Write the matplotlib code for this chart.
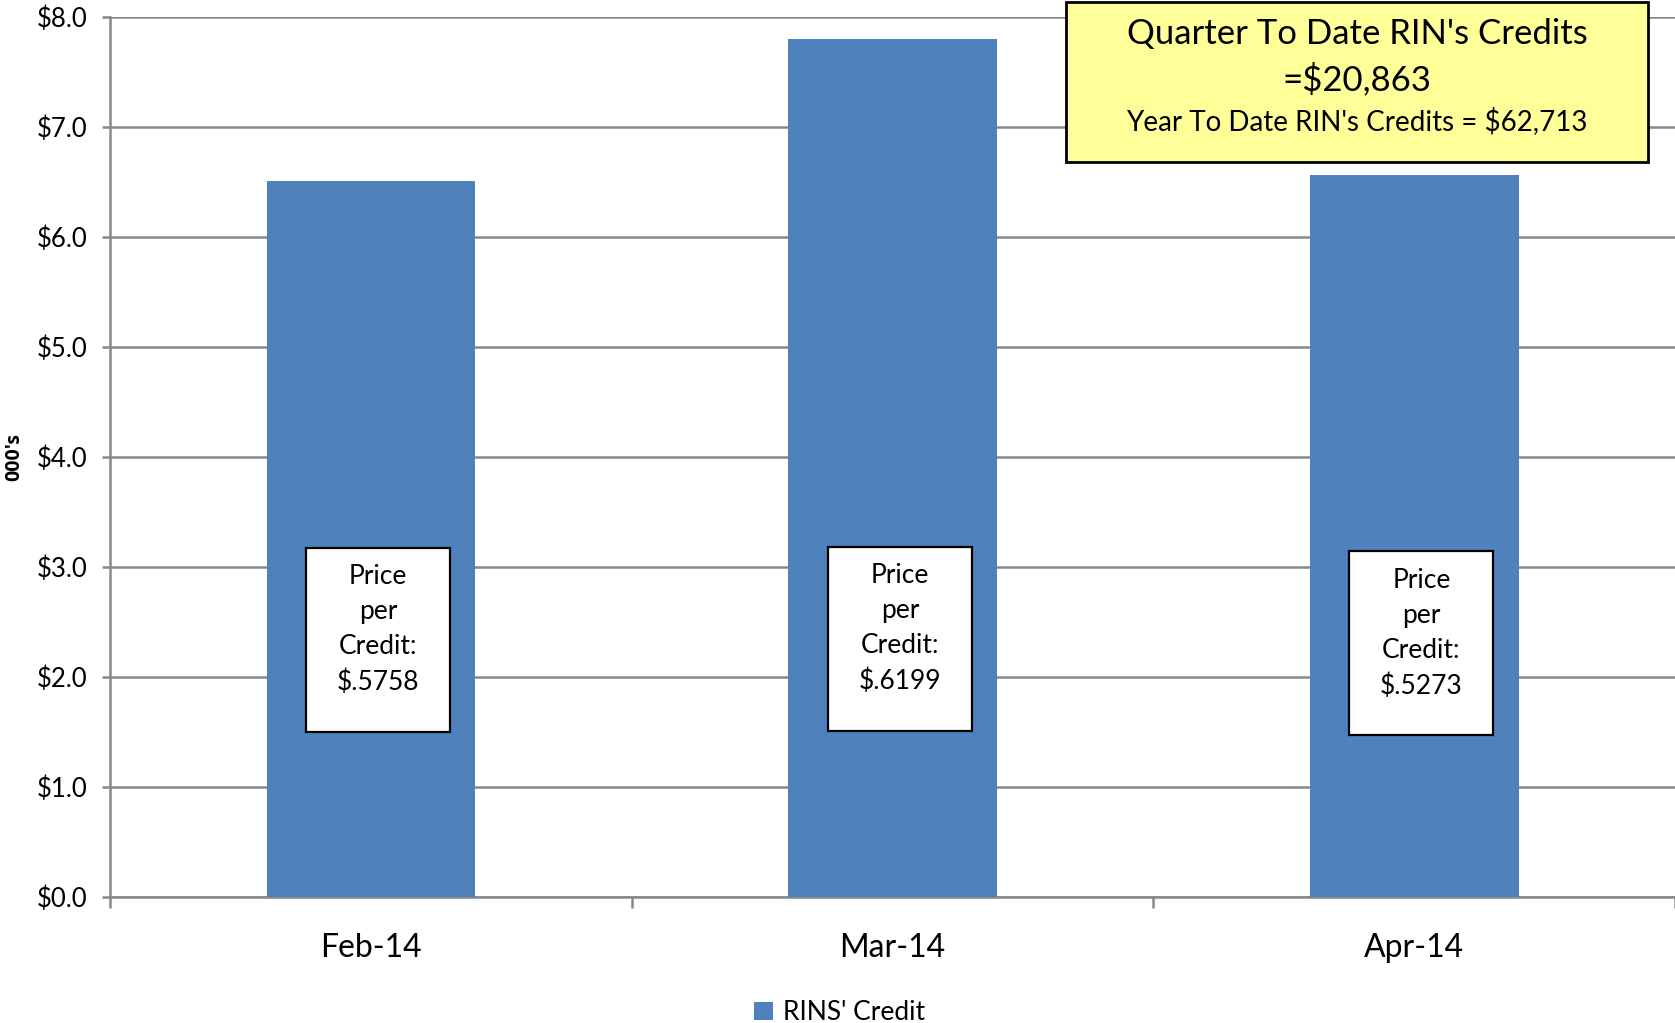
import matplotlib
matplotlib.use('Agg')
import matplotlib.pyplot as plt
from matplotlib.patches import Rectangle

plt.rcParams['font.family'] = ['Lato', 'DejaVu Sans']

months = ['Feb-14', 'Mar-14', 'Apr-14']
credits = [6.505, 7.795, 6.563]   # thousands of dollars
prices = ['$.5758', '$.6199', '$.5273']
box_bottom = [1.50, 1.51, 1.47]
box_top = [3.17, 3.18, 3.14]
qtd_text = "Quarter To Date RIN's Credits\n=$20,863"
ytd_text = "Year To Date RIN's Credits = $62,713"

bar_color = '#4F81BD'
grid_color = '#888888'

fig = plt.figure(figsize=(16.75, 10.23), dpi=100)
ax = fig.add_axes([0.0657, 0.1235, 0.9343, 0.8602])

x = list(range(len(months)))
ax.bar(x, credits, width=0.4, color=bar_color, zorder=3, label="RINS' Credit")

ax.set_xlim(-0.5, 2.5)
ax.set_ylim(0, 8)
ax.set_yticks([i for i in range(9)])
ax.set_yticklabels(['$%.1f' % i for i in range(9)], fontsize=18.5)
ax.yaxis.grid(True, color=grid_color, linewidth=1.8, zorder=0)
ax.tick_params(axis='y', length=6, width=1.8, color=grid_color, pad=10)

# category boundaries as major ticks, names on minor ticks
ax.set_xticks([-0.5, 0.5, 1.5, 2.5])
ax.set_xticklabels([])
ax.set_xticks(x, minor=True)
ax.set_xticklabels(months, minor=True, fontsize=23)
ax.tick_params(axis='x', which='major', length=8, width=1.8, color=grid_color)
ax.tick_params(axis='x', which='minor', length=0, pad=26)

for side in ['top', 'right']:
    ax.spines[side].set_visible(False)
for side in ['left', 'bottom']:
    ax.spines[side].set_color(grid_color)
    ax.spines[side].set_linewidth(1.8)

ax.set_ylabel("000's", fontsize=14, fontweight='bold', family=['Open Sans', 'DejaVu Sans'])
ax.yaxis.set_label_coords(-0.055, 0.5)

# price per credit boxes
bw = 0.276
for i in range(len(months)):
    cx = x[i] + 0.014
    ax.add_patch(Rectangle((cx - bw / 2, box_bottom[i]), bw, box_top[i] - box_bottom[i],
                           facecolor='white', edgecolor='black', linewidth=1.6, zorder=4))
    ax.text(cx, box_top[i] - 0.15, 'Price\nper\nCredit:\n' + prices[i], ha='center', va='top',
            fontsize=19, linespacing=1.5, zorder=5)

# yellow summary box (figure coords)
fig.patches.append(Rectangle((1066 / 1675, 1 - 162 / 1023), 582 / 1675, 160 / 1023,
                             transform=fig.transFigure, facecolor='#FFFF99',
                             edgecolor='black', linewidth=2, zorder=10))
fig.text(1357 / 1675, 1 - 57 / 1023, qtd_text, ha='center', va='center', fontsize=25,
         linespacing=1.45, zorder=11)
fig.text(1357 / 1675, 1 - 121 / 1023, ytd_text, ha='center', va='center', fontsize=20,
         zorder=11)

fig.legend(loc='center', bbox_to_anchor=(0.5015, 0.010), frameon=False, fontsize=19,
           handlelength=0.7, handleheight=0.7, handletextpad=0.4)

fig.savefig('out.png', dpi=100)
